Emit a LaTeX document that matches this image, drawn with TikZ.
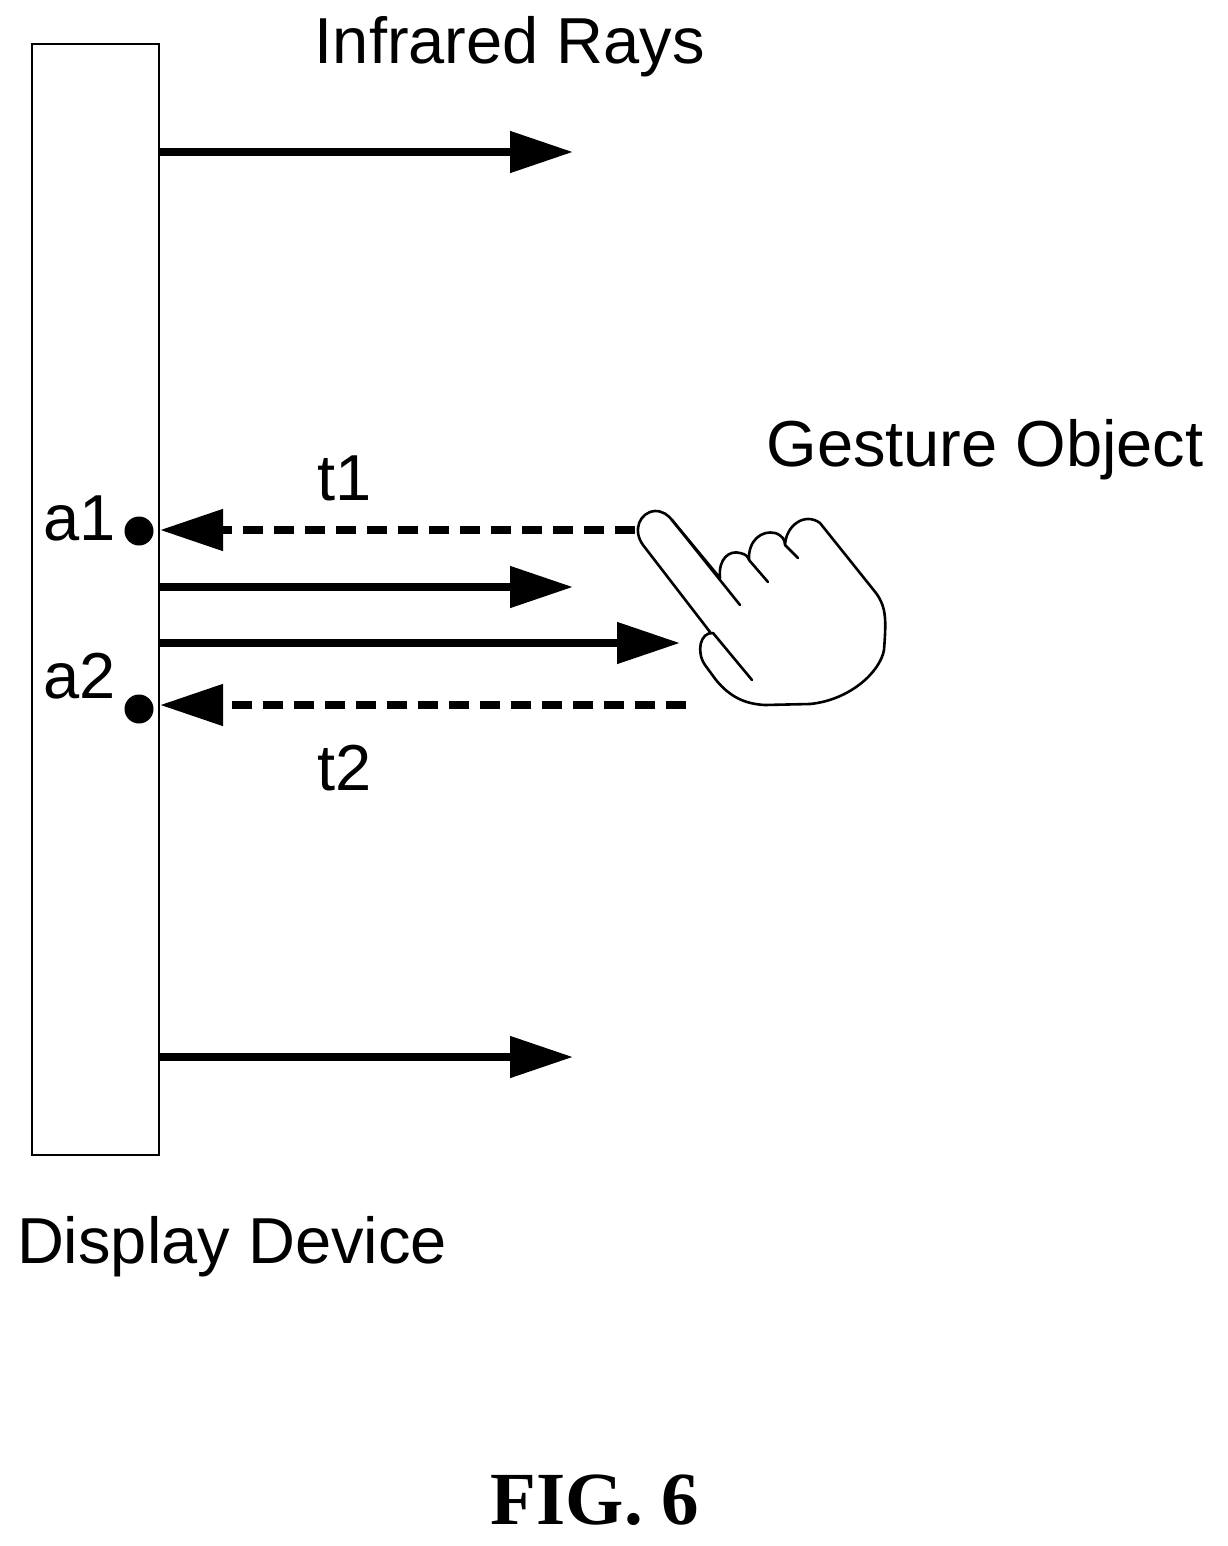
\documentclass[tikz,border=0pt]{standalone}
\usepackage{fontspec}
\setmainfont{Liberation Sans}
\newfontfamily\serifb{Liberation Serif}
\usetikzlibrary{arrows.meta}
\begin{document}
\begin{tikzpicture}[x=1pt,y=-1pt,
  ray/.style={line width=8pt,-{Triangle[length=63pt,width=40pt]}},
  echo/.style={line width=8pt,dash pattern=on 20pt off 11pt,-{Triangle[length=63pt,width=40pt]}},
  lbl/.style={font=\fontsize{65}{75}\selectfont,inner sep=0pt},
  dot/.style={circle,fill=black,minimum size=29pt,inner sep=0pt},
  hand/.style={line width=2.6pt,line cap=round,line join=round}]
\useasboundingbox (0,0) rectangle (1227,1546);
\node[draw,line width=2pt,minimum width=127pt,minimum height=1111pt,inner sep=0pt] (disp) at (95.5,599.5) {};
\coordinate (r1) at (159,152); \coordinate (e1) at (573,152);
\coordinate (r2) at (159,587); \coordinate (e2) at (573,587);
\coordinate (r3) at (159,643); \coordinate (e3) at (680,643);
\coordinate (r4) at (159,1057); \coordinate (e4) at (573,1057);
\coordinate (s1) at (635,530); \coordinate (d1) at (160,530);
\coordinate (s2) at (686,705); \coordinate (d2) at (160,705);
\draw[ray] (r1) -- (e1);
\draw[ray] (r2) -- (e2);
\draw[ray] (r3) -- (e3);
\draw[ray] (r4) -- (e4);
\draw[echo] (s1) -- (d1);
\draw[echo] (s2) -- (d2);
\node[dot] (a1) at (139,531) {};
\node[dot] (a2) at (139,709) {};
\node[lbl] (ir) at (510,47) {Infrared Rays};
\node[lbl] (go) at (985,450) {Gesture Object};
\node[lbl] (t1) at (345,478) {t1};
\node[lbl] (t2) at (345,768) {t2};
\node[lbl] (la1) at (80,518) {a1};
\node[lbl] (la2) at (80,676) {a2};
\node[lbl] (dd) at (232,1247) {Display Device};
\node[inner sep=0pt,font=\serifb\bfseries\fontsize{75}{85}\selectfont] (fig) at (595,1500) {FIG. 6};
% hand
\draw[hand,fill=white]
  (710,632) -- (643,545) .. controls (632,530) and (640,512) .. (655,511)
  .. controls (663,511) and (668,515) .. (672,520)
  -- (720,578) .. controls (718,558) and (730,550) .. (740,553)
  .. controls (746,554) and (748,557) .. (749,560)
  .. controls (748,540) and (762,530) .. (775,533)
  .. controls (782,535) and (785,540) .. (785,545)
  .. controls (786,525) and (805,512) .. (820,523)
  -- (876,593) .. controls (887,608) and (886,622) .. (884,650)
  .. controls (880,672) and (850,700) .. (810,704)
  -- (765,705) .. controls (745,704) and (730,697) .. (716,680)
  -- (705,665) .. controls (696,652) and (700,632) .. (713,633);
\draw[hand] (672,520) -- (740,605);
\draw[hand] (749,560) -- (768,582);
\draw[hand] (785,545) -- (798,558);
\draw[hand] (713,633) -- (752,680);
\end{tikzpicture}
\end{document}
